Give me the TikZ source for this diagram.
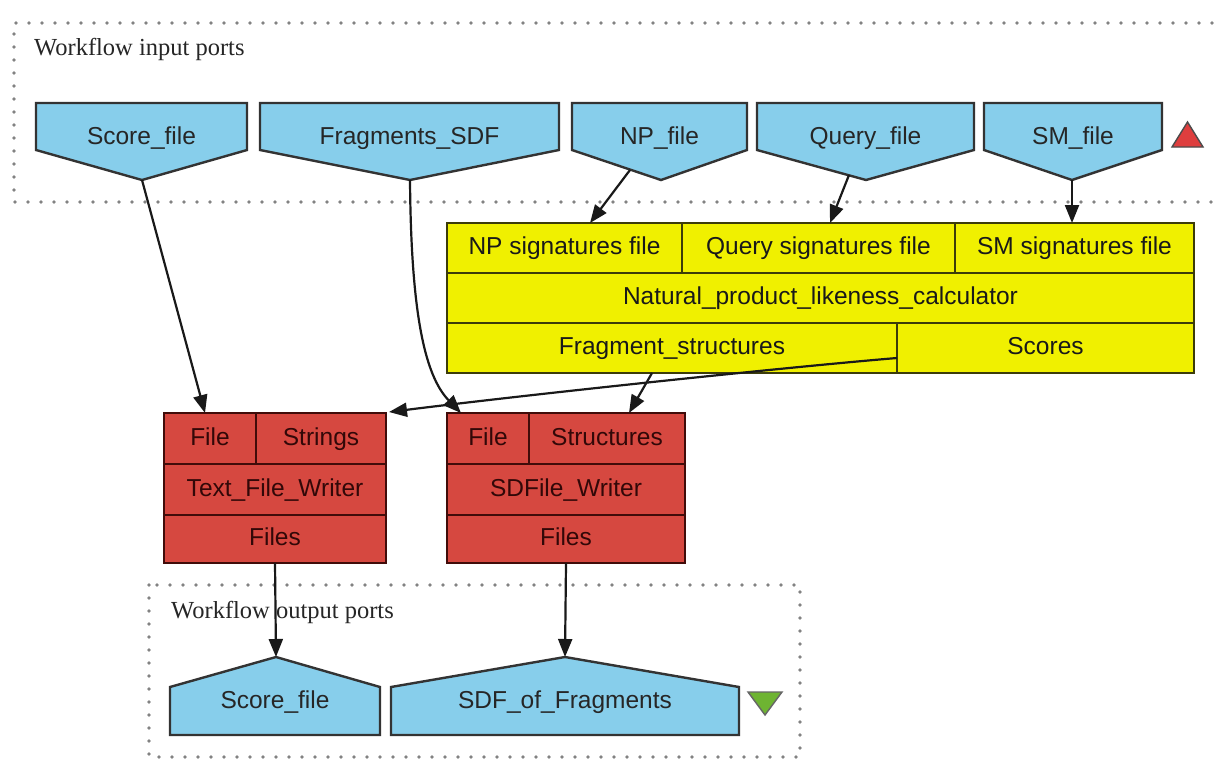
\documentclass[tikz,border=0pt]{standalone}
\usepackage{fontspec}
\setmainfont{Liberation Sans}
\newfontfamily\labelserif{Liberation Serif}
\usetikzlibrary{arrows.meta,calc}
\definecolor{portblue}{RGB}{135,206,235}
\definecolor{procyellow}{RGB}{240,240,0}
\definecolor{yborder}{RGB}{60,60,10}
\definecolor{procred}{RGB}{214,72,64}
\definecolor{rborder}{RGB}{65,12,10}
\definecolor{redtext}{RGB}{50,8,8}
\definecolor{dotgray}{RGB}{130,130,130}
\definecolor{trired}{RGB}{222,62,62}
\definecolor{trigreen}{RGB}{110,180,50}
\begin{document}
\begin{tikzpicture}[x=1pt,y=-1pt,
  txt/.style={font=\fontsize{24.5}{28}\selectfont},
  lbl/.style={font=\labelserif\fontsize{24.5}{28}\selectfont, text=black!85, inner sep=0pt, anchor=west},
  portshape/.style={draw=black!80, fill=portblue, line width=2.4pt, line join=miter},
  porttext/.style={txt, text=black!85, inner sep=0pt, text height=18pt, text depth=5pt},
  ycell/.style={txt, draw=yborder, fill=procyellow, line width=2.4pt, inner sep=0pt, outer sep=0pt, anchor=north west, text=black!90, text height=18pt, text depth=5pt},
  rcell/.style={txt, draw=rborder, fill=procred, line width=2.4pt, inner sep=0pt, outer sep=0pt, anchor=north west, text=redtext, text height=18pt, text depth=5pt},
  conn/.style={-{Triangle[length=18pt,width=14pt]}, line width=2.2pt, black!90},
  dotbox/.style={dotgray, line width=3.6pt, dash pattern=on 0pt off 13pt, line cap=round}
]
\useasboundingbox[fill=white] (0,0) rectangle (1214,763);

% dotted group boxes
\draw[dotbox] (1212,23) -- (14,23) -- (14,202) -- (1212,202);
\draw[dotbox] (149,585) rectangle (800,757);

\node[lbl] (inLbl) at (34,49) {Workflow input ports};
\node[lbl] (outLbl) at (171,612) {Workflow output ports};

% input ports
\draw[portshape] (36,103) -- (247,103) -- (247,150) -- (142,180) -- (36,150) -- cycle;
\node[porttext] (inScore) at (141.5,138) {Score\_file};
\coordinate (inScoreTip) at (142,180);

\draw[portshape] (260,103) -- (559,103) -- (559,150) -- (410,180) -- (260,150) -- cycle;
\node[porttext] (inFrag) at (409.5,138) {Fragments\_SDF};
\coordinate (inFragTip) at (410,180);

\draw[portshape] (572,103) -- (747,103) -- (747,150) -- (661,180) -- (572,150) -- cycle;
\node[porttext] (inNP) at (659.5,138) {NP\_file};
\coordinate (npStart) at (630,170);

\draw[portshape] (757,103) -- (974,103) -- (974,150) -- (866,180) -- (757,150) -- cycle;
\node[porttext] (inQuery) at (865.5,138) {Query\_file};
\coordinate (qStart) at (849,175);

\draw[portshape] (984,103) -- (1162,103) -- (1162,150) -- (1072,180) -- (984,150) -- cycle;
\node[porttext] (inSM) at (1073,138) {SM\_file};
\coordinate (inSMTip) at (1072,180);

\draw[fill=trired, draw=black!70, line width=1.4pt] (1172,147) -- (1203,147) -- (1187.5,122) -- cycle;

% yellow processor
\node[ycell, minimum width=235pt, minimum height=50pt] (npsig) at (447,223) {NP signatures file};
\node[ycell, minimum width=273pt, minimum height=50pt] (qsig) at (682,223) {Query signatures file};
\node[ycell, minimum width=239pt, minimum height=50pt] (smsig) at (955,223) {SM signatures file};
\node[ycell, minimum width=747pt, minimum height=50pt] (nplc) at (447,273) {Natural\_product\_likeness\_calculator};
\node[ycell, minimum width=450pt, minimum height=50pt] (frag) at (447,323) {Fragment\_structures};
\node[ycell, minimum width=297pt, minimum height=50pt] (scores) at (897,323) {Scores};

% red processors
\node[rcell, minimum width=92pt, minimum height=51pt] (f1) at (164,413) {File};
\node[rcell, minimum width=130pt, minimum height=51pt] (str) at (256,413) {Strings};
\node[rcell, minimum width=222pt, minimum height=51pt] (tfw) at (164,464) {Text\_File\_Writer};
\node[rcell, minimum width=222pt, minimum height=48pt] (files1) at (164,515) {Files};

\node[rcell, minimum width=82pt, minimum height=51pt] (f2) at (447,413) {File};
\node[rcell, minimum width=156pt, minimum height=51pt] (structs) at (529,413) {Structures};
\node[rcell, minimum width=238pt, minimum height=51pt] (sdfw) at (447,464) {SDFile\_Writer};
\node[rcell, minimum width=238pt, minimum height=48pt] (files2) at (447,515) {Files};

% output ports
\draw[portshape] (170,735) -- (170,687) -- (276,657) -- (380,687) -- (380,735) -- cycle;
\node[porttext] (outScore) at (275,702) {Score\_file};
\coordinate (outScoreTip) at (276,657);

\draw[portshape] (391,735) -- (391,687) -- (565,657) -- (739,687) -- (739,735) -- cycle;
\node[porttext] (outSDF) at (565,702) {SDF\_of\_Fragments};
\coordinate (outSDFTip) at (565,657);

\draw[fill=trigreen, draw=black!60, line width=1.4pt] (748,692) -- (782,692) -- (765,715) -- cycle;

% connectors
\draw[conn] (inScoreTip) -- ($(f1.north west)+(41,0)$);
\draw[conn] (inFragTip) .. controls (411,310) and (424,375) .. ($(f2.north west)+(14,0)$);
\draw[conn] (npStart) -- ($(npsig.north west)+(143,0)$);
\draw[conn] (qStart) -- ($(qsig.north west)+(148,0)$);
\draw[conn] (inSMTip) -- ($(smsig.north west)+(117,0)$);
\draw[conn] ($(frag.south west)+(205,0)$) -- ($(structs.north west)+(100,0)$);
\draw[conn] ($(scores.north west)+(0,35)$) .. controls (800,366) and (550,392) .. ($(str.north east)+(3,-1)$);
\draw[conn] (files1.south) -- (outScoreTip);
\draw[conn] (files2.south) -- (outSDFTip);
\end{tikzpicture}
\end{document}
